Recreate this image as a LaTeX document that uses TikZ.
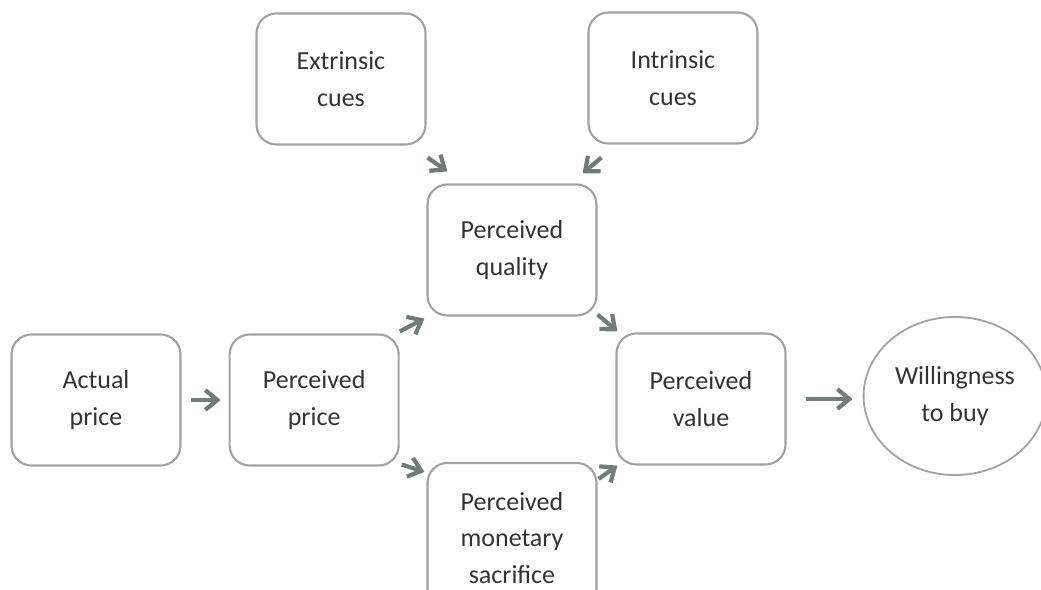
\documentclass[tikz,border=0pt]{standalone}
\usepackage{fontspec}
\setmainfont{Carlito}
\usepackage{tikz}
\usetikzlibrary{positioning}
\usetikzlibrary{shapes.geometric,calc,arrows.meta}

\definecolor{boxgray}{HTML}{9FA3A1}
\definecolor{arrowgray}{HTML}{6F7C78}
\definecolor{textgray}{HTML}{333333}

\begin{document}
\begin{tikzpicture}[x=0.025cm,y=-0.025cm,
  box/.style={rectangle,rounded corners=0.5cm,draw=boxgray,line width=1.5pt,
    minimum width=4.225cm,minimum height=3.275cm,align=center,text=textgray,
    font=\fontsize{18.5}{26}\selectfont},
  goal/.style={ellipse,draw=boxgray,line width=1.3pt,minimum width=4.25cm,
    minimum height=3.95cm,align=center,text=textgray,font=\fontsize{18.5}{26}\selectfont},
  arr/.style={-{Straight Barb[length=8.5pt,width=14pt]},draw=arrowgray,line width=3pt}]
  \useasboundingbox (0,0) rectangle (1041,590);

  \node[box] (actual) at (96,400) {Actual\\price};
  \node[box] (pprice) [right=1.175cm of actual] {Perceived\\price};
  \node[box] (extrinsic) at (341,79) {Extrinsic\\cues};
  \node[box] (intrinsic) at (673,78) {Intrinsic\\cues};
  \node[box] (quality) at (512,250) {Perceived\\quality};
  \node[box,minimum height=3.75cm] (sacrifice) at (512,538) {Perceived\\monetary\\sacrifice};
  \node[box] (value) at (701,399) {Perceived\\value};
  \node[goal] (buy) at (955,396) {Willingness\\to buy};

  % price side
  \draw[arr,shorten <=0.225cm,shorten >=0.2cm] (actual) -- (pprice);
  \draw[arr] ($(pprice.north east)+(0,-2)$) -- ($(quality.south west)+(-2,2)$);
  \draw[arr] ($(pprice.south east)+(2,-2)$) -- ($(sacrifice.north west)+(-2,10)$);

  % cues into quality
  \draw[arr] ($(extrinsic.south east)+(1,12)$) -- ($(quality.north west)+(21,-12)$);
  \draw[arr] ($(intrinsic.south west)+(14,13)$) -- ($(quality.north east)+(-15,-10)$);

  % into value
  \draw[arr] ($(quality.south east)+(0,-2)$) -- ($(value.north west)+(2,-1)$);
  \draw[arr] ($(sacrifice.north east)+(1,17)$) -- ($(value.south west)+(2,0)$);
  \draw[arr,shorten <=0.475cm,shorten >=0.25cm] (value.east) -- (value.east -| buy.west);
\end{tikzpicture}
\end{document}
